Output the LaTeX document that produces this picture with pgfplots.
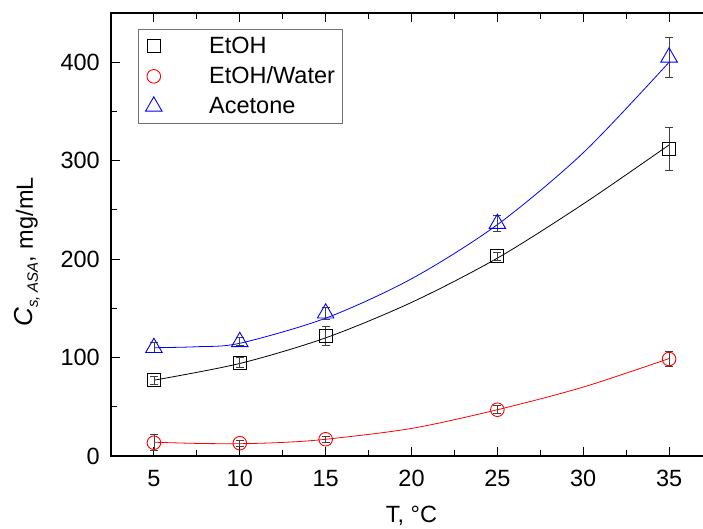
\documentclass[border=0pt]{standalone}
\usepackage{pgfplots}
\pgfplotsset{compat=1.18}
\usepackage{fontspec}
\setmainfont{Liberation Sans}

\newcommand{\chartfont}{\fontsize{23.5}{28}\selectfont}

% Measured solubility: temperature, concentration, standard deviation
\pgfplotstableread{
T  C    E
5  77   4
10 95   5
15 122  10
25 203  4
35 312  22
}\etoh
\pgfplotstableread{
T  C     E
5  13.5  8
10 13    3
15 17    3
25 47    4
35 98.5  7.5
}\etohwater
\pgfplotstableread{
T  C    E
5  110  5
10 116  4
15 145  6
25 236  8
35 405  20
}\acetone

\begin{document}
\begin{tikzpicture}
\begin{axis}[
  at={(111pt,72pt)}, anchor=south west,
  scale only axis, width=601pt, height=443pt,
  xmin=2.5, xmax=37.5, ymin=0, ymax=450,
  xtick={5,10,...,35}, ytick={0,100,...,400},
  minor x tick num=1, minor y tick num=1,
  tick align=inside,
  major tick length=9pt, minor tick length=6pt,
  axis line style={line width=1.1pt},
  every tick/.style={black, line width=1pt},
  tick label style={font=\chartfont},
  label style={font=\chartfont},
  /pgf/number format/assume math mode=true,
  xticklabel style={anchor=north, inner sep=0pt, yshift=-14pt},
  yticklabel style={anchor=east, inner sep=0pt, xshift=-11pt},
  xlabel={T, °C},
  xlabel style={at={(axis description cs:0.5,-0.1512)}, anchor=base},
  ylabel={{\fontsize{26}{30}\selectfont\textit{C}}\raisebox{-5pt}{\fontsize{15}{18}\selectfont\textit{s, ASA}}, mg/mL},
  ylabel style={at={(axis description cs:-0.1298,0.4605)}, anchor=base},
  legend style={at={(axis description cs:0.0449,0.964)}, anchor=north west,
    draw=black!55, line width=0.8pt, font=\chartfont,
    inner xsep=5pt, inner ysep=2pt, row sep=0pt,
    nodes={text height=18pt, text depth=4.5pt, inner ysep=3.75pt, inner xsep=2pt},
    cells={anchor=west}},
  legend image code/.code={\path (-10pt,0pt) (53pt,0pt);
    \draw[#1] plot coordinates {(0pt,0pt)};},
  errstyle/.style={error bars/.cd, y dir=both, y explicit,
    error bar style={black!75, line width=0.8pt},
    error mark options={rotate=90, black!75, mark size=4pt, line width=0.8pt}},
]
% fitted curves
\addplot[forget plot, black, line width=0.8pt, smooth] coordinates {
  (5,77) (10,94) (15,120) (20,156) (25,201) (30,256) (35,316)};
\addplot[forget plot, red, line width=0.8pt, smooth] coordinates {
  (5,14) (7.5,12.8) (10,12.5) (12.5,13.8) (15,17) (20,28) (25,47) (30,70) (35,99)};
\addplot[forget plot, blue, line width=0.8pt, smooth] coordinates {
  (5,110) (7.5,111) (10,114.5) (15,140) (20,180) (25,235) (30,308) (35,400)};

% measurements
\addplot[only marks, black, mark=square, mark size=6.5pt,
  mark options={line width=0.9pt, fill=none}, errstyle]
  table[x=T, y=C, y error=E] {\etoh};
\addlegendentry{EtOH}
\addplot[only marks, red, mark=o, mark size=6.8pt,
  mark options={line width=0.9pt, fill=none}, errstyle]
  table[x=T, y=C, y error=E] {\etohwater};
\addlegendentry{EtOH/Water}
\addplot[only marks, blue, mark=triangle, mark size=9.5pt,
  mark options={line width=0.9pt, fill=none}, errstyle]
  table[x=T, y=C, y error=E] {\acetone};
\addlegendentry{Acetone}
\end{axis}
\pgfresetboundingbox
\path[use as bounding box] (0pt,0pt) rectangle (703pt,528pt);
\end{tikzpicture}
\end{document}
